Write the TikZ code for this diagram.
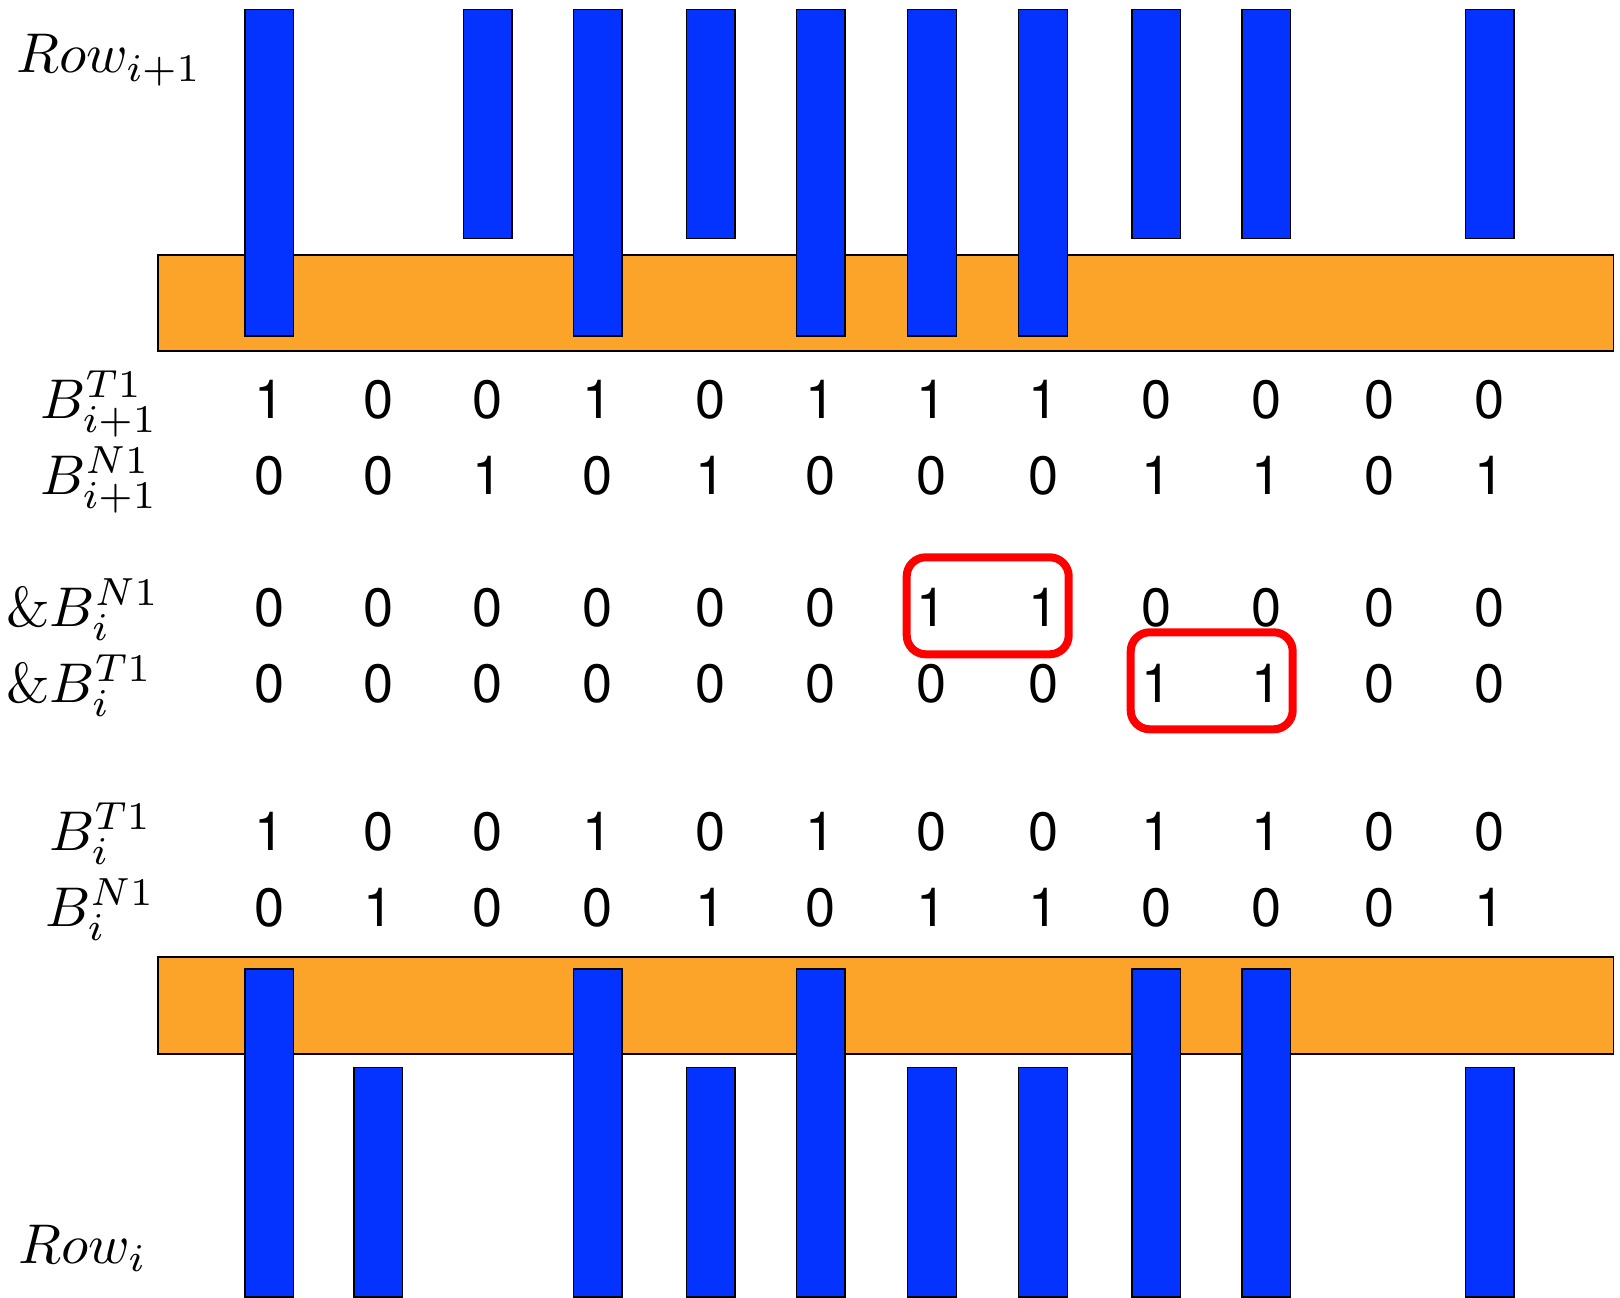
\documentclass[tikz,border=0pt]{standalone}
\usepackage{fontspec}
\newfontfamily\digitfont{TeX Gyre Heros}
\definecolor{barblue}{RGB}{4,51,255}
\definecolor{padorange}{RGB}{252,163,42}
\definecolor{boxred}{RGB}{255,0,0}
\tikzset{
  bar/.style={fill=barblue, draw=black, line width=1.5pt},
  pad/.style={fill=padorange, draw=black, line width=1.8pt},
  digit/.style={anchor=base, inner sep=0pt, font=\digitfont\fontsize{54}{60}\selectfont},
  rowlabel/.style={anchor=base west, inner sep=0pt, scale=5.6, font=\fontsize{10}{12}\selectfont},
  redbox/.style={draw=boxred, line width=8pt, rounded corners=19pt, inner sep=0pt,
    minimum width=162pt, minimum height=97pt}
}
\def\colarr{{269.2,378.2,487.7,597.7,710.8,820.9,932.0,1043.0,1156.2,1266.2,1379.3,1489.9}}
\begin{document}
\begin{tikzpicture}[x=1pt,y=-1pt]
\useasboundingbox (0,0) rectangle (1620,1298);
% top row (Row i+1)
\path[pad] (158,255.2) rectangle (1613.5,351.3);
\foreach \k in {0,3,5,6,7}{
  \pgfmathsetmacro\cx{\colarr[\k]}
  \path[bar] (\cx-24.3,9.3) rectangle (\cx+24.3,335.8);
}
\foreach \k in {2,4,8,9,11}{
  \pgfmathsetmacro\cx{\colarr[\k]}
  \path[bar] (\cx-24.3,9.3) rectangle (\cx+24.3,238.7);
}
% bottom row (Row i)
\path[pad] (158,956.7) rectangle (1613.5,1053.9);
\foreach \k in {0,3,5,8,9}{
  \pgfmathsetmacro\cx{\colarr[\k]}
  \path[bar] (\cx-24.3,969.1) rectangle (\cx+24.3,1297.2);
}
\foreach \k in {1,4,6,7,11}{
  \pgfmathsetmacro\cx{\colarr[\k]}
  \path[bar] (\cx-24.3,1067.3) rectangle (\cx+24.3,1297.2);
}
% labels
\node[rowlabel] (rowtop) at (15,73) {$Row_{i+1}$};
\node[rowlabel] (rowbot) at (17,1263) {$Row_i$};
\node[rowlabel] (l1) at (39,418) {$B^{T1}_{i+1}$};
\node[rowlabel] (l2) at (39,494) {$B^{N1}_{i+1}$};
\node[rowlabel] (l3) at (5,626) {$\&B^{N1}_{i}$};
\node[rowlabel] (l4) at (5,702) {$\&B^{T1}_{i}$};
\node[rowlabel] (l5) at (48,850) {$B^{T1}_{i}$};
\node[rowlabel] (l6) at (44,926) {$B^{N1}_{i}$};
% digits
\foreach \y/\vals [count=\r] in {418/{1,0,0,1,0,1,1,1,0,0,0,0},
                                 494/{0,0,1,0,1,0,0,0,1,1,0,1},
                                 626/{0,0,0,0,0,0,1,1,0,0,0,0},
                                 702/{0,0,0,0,0,0,0,0,1,1,0,0},
                                 850/{1,0,0,1,0,1,0,0,1,1,0,0},
                                 926/{0,1,0,0,1,0,1,1,0,0,0,1}}{
  \foreach \v [count=\k from 0] in \vals {
    \pgfmathsetmacro\cx{\colarr[\k]}
    \node[digit] (d\r-\k) at (\cx,\y) {\v};
  }
}
% highlight boxes
\node[redbox] (box1) at (987.7,605.8) {};
\node[redbox] (box2) at (1211.7,680.8) {};
\end{tikzpicture}
\end{document}
